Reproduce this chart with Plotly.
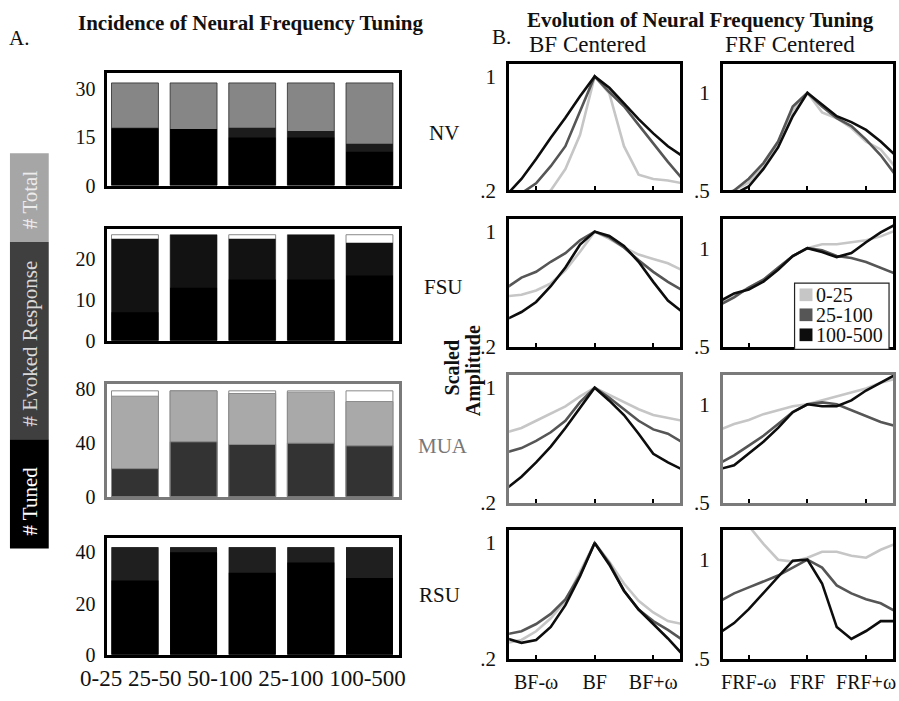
import plotly.graph_objects as go

W, H = 899, 701
FONT = "Liberation Serif"

# ---------------- data ----------------
categories = ["0-25", "25-50", "50-100", "25-100", "100-500"]
cell_types = ["NV", "FSU", "MUA", "RSU"]

nv_total = [32, 32, 32, 32, 32]
nv_evoked = [18, 17.6, 18, 17, 13]
nv_tuned = [17.8, 17.6, 15, 15, 10.5]

fsu_total = [26, 26, 26, 26, 26]
fsu_evoked = [25, 26, 25, 26, 24]
fsu_tuned = [7, 13, 15, 15, 16]

mua_total = [79, 79, 79, 79, 79]
mua_evoked = [75, 79, 77, 78, 71]
mua_tuned = [21, 41, 39, 40, 38]

rsu_total = [42, 42, 42, 42, 42]
rsu_evoked = [42, 42, 42, 42, 42]
rsu_tuned = [29, 40, 32, 36, 30]

bar_ticks = [[0, 15, 30], [0, 10, 20], [0, 40, 80], [0, 20, 40]]

# tuning-curve offsets (in units of omega)
offsets = [-1.5, -1.25, -1.0, -0.75, -0.5, -0.25, 0.0, 0.25, 0.5, 0.75, 1.0, 1.25, 1.5]
series_names = ["0-25", "25-100", "100-500"]

bf_nv_0_25 = [0.05, 0.08, 0.12, 0.20, 0.35, 0.59, 1.0, 0.88, 0.51, 0.31, 0.28, 0.27, 0.25]
bf_nv_25_100 = [0.10, 0.18, 0.25, 0.37, 0.51, 0.75, 1.0, 0.89, 0.79, 0.66, 0.53, 0.40, 0.28]
bf_nv_100_500 = [0.17, 0.28, 0.42, 0.57, 0.71, 0.86, 1.0, 0.92, 0.81, 0.70, 0.60, 0.51, 0.44]

frf_nv_0_25 = [0.48, 0.50, 0.54, 0.63, 0.74, 0.91, 1.0, 0.90, 0.87, 0.82, 0.75, 0.71, 0.62]
frf_nv_25_100 = [0.45, 0.50, 0.56, 0.64, 0.75, 0.93, 1.0, 0.93, 0.87, 0.83, 0.76, 0.68, 0.58]
frf_nv_100_500 = [0.44, 0.48, 0.52, 0.61, 0.72, 0.88, 1.0, 0.94, 0.88, 0.85, 0.81, 0.75, 0.68]

bf_fsu_0_25 = [0.55, 0.56, 0.59, 0.64, 0.73, 0.86, 1.0, 0.95, 0.89, 0.84, 0.81, 0.78, 0.73]
bf_fsu_25_100 = [0.61, 0.68, 0.72, 0.79, 0.85, 0.94, 1.0, 0.96, 0.89, 0.80, 0.72, 0.65, 0.59]
bf_fsu_100_500 = [0.39, 0.44, 0.51, 0.62, 0.75, 0.91, 1.0, 0.97, 0.90, 0.79, 0.65, 0.52, 0.44]

frf_fsu_0_25 = [0.72, 0.76, 0.80, 0.84, 0.90, 0.96, 1.0, 1.02, 1.02, 1.03, 1.04, 1.06, 1.09]
frf_fsu_25_100 = [0.71, 0.75, 0.80, 0.84, 0.90, 0.96, 1.0, 0.99, 0.96, 0.95, 0.93, 0.90, 0.87]
frf_fsu_100_500 = [0.73, 0.77, 0.79, 0.83, 0.89, 0.96, 1.0, 0.98, 0.955, 0.975, 1.03, 1.08, 1.12]

bf_mua_0_25 = [0.69, 0.72, 0.77, 0.82, 0.87, 0.94, 1.0, 0.95, 0.90, 0.85, 0.81, 0.79, 0.77]
bf_mua_25_100 = [0.55, 0.58, 0.63, 0.69, 0.77, 0.90, 1.0, 0.93, 0.85, 0.77, 0.71, 0.68, 0.62]
bf_mua_100_500 = [0.30, 0.38, 0.48, 0.59, 0.72, 0.86, 1.0, 0.91, 0.81, 0.68, 0.54, 0.48, 0.43]

frf_mua_0_25 = [0.87, 0.90, 0.92, 0.95, 0.97, 0.99, 1.0, 1.02, 1.04, 1.06, 1.08, 1.11, 1.13]
frf_mua_25_100 = [0.70, 0.74, 0.79, 0.84, 0.90, 0.96, 1.0, 1.01, 1.0, 0.97, 0.94, 0.91, 0.89]
frf_mua_100_500 = [0.67, 0.69, 0.75, 0.81, 0.88, 0.96, 1.0, 0.99, 0.99, 1.02, 1.07, 1.11, 1.15]

bf_rsu_0_25 = [0.31, 0.33, 0.39, 0.48, 0.60, 0.80, 1.0, 0.87, 0.72, 0.60, 0.52, 0.46, 0.44]
bf_rsu_25_100 = [0.37, 0.39, 0.44, 0.51, 0.61, 0.78, 1.0, 0.86, 0.67, 0.54, 0.46, 0.40, 0.33]
bf_rsu_100_500 = [0.34, 0.31, 0.33, 0.42, 0.57, 0.77, 1.0, 0.85, 0.67, 0.54, 0.44, 0.34, 0.23]

frf_rsu_0_25 = [1.30, 1.24, 1.17, 1.08, 1.00, 0.99, 1.01, 1.04, 1.04, 1.02, 1.01, 1.05, 1.08]
frf_rsu_25_100 = [0.79, 0.83, 0.86, 0.89, 0.92, 0.96, 1.0, 0.96, 0.87, 0.83, 0.80, 0.78, 0.74]
frf_rsu_100_500 = [0.63, 0.68, 0.75, 0.83, 0.91, 0.995, 1.0, 0.88, 0.66, 0.60, 0.64, 0.69, 0.69]

bf_ticktext = ["BF-\u03c9", "BF", "BF+\u03c9"]
frf_ticktext = ["FRF-\u03c9", "FRF", "FRF+\u03c9"]

# ---------------- helpers ----------------
def dxp(a, b):
    return [a / W, b / W]

def dyp(top, bottom):
    return [1 - bottom / H, 1 - top / H]

fig = go.Figure()
layout = {}

bar_data = [
    (nv_total, nv_evoked, nv_tuned),
    (fsu_total, fsu_evoked, fsu_tuned),
    (mua_total, mua_evoked, mua_tuned),
    (rsu_total, rsu_evoked, rsu_tuned),
]
bar_colors = [
    ["#868686", "#1c1c1c", "#000000"],
    ["#ffffff", "#121212", "#000000"],
    ["#ffffff", "#a9a9a9", "#333333"],
    ["#1f1f1f", "#1f1f1f", "#000000"],
]
# (colour, width) of outline for total / evoked / tuned
bar_edge = [
    [("#2a2a2a", 0.8), ("#1c1c1c", 0), ("#000", 0)],
    [("#8a8a8a", 1), ("#121212", 0), ("#000", 0)],
    [("#8a8a8a", 1), ("#8a8a8a", 1), ("#8a8a8a", 1)],
    [("#1f1f1f", 0), ("#1f1f1f", 0), ("#000", 0)],
]
frame_colors = ["#000000", "#000000", "#7a7a7a", "#000000"]
bar_rows = [(70, 185), (230, 344), (388, 504), (546, 666)]
bar_ranges = [35, 27.3, 84.4, 45.7]

xpos = [i + 1 for i in range(len(categories))]

for i in range(4):
    ax = i + 1
    xa = "x" if ax == 1 else f"x{ax}"
    ya = "y" if ax == 1 else f"y{ax}"
    for k, vals in enumerate(bar_data[i]):
        fig.add_trace(go.Bar(
            x=xpos, y=vals, width=0.8, xaxis=xa, yaxis=ya,
            marker=dict(color=bar_colors[i][k],
                        line=dict(color=bar_edge[i][k][0], width=bar_edge[i][k][1])),
            showlegend=False, hoverinfo="skip"))
    top, bot = bar_rows[i]
    layout[f"xaxis{'' if ax == 1 else ax}"] = dict(
        domain=dxp(106, 399), range=[0.53, 5.5], anchor=ya,
        showline=True, mirror=True, linewidth=3, linecolor=frame_colors[i],
        showgrid=False, zeroline=False, ticks="", showticklabels=False,
        fixedrange=True)
    layout[f"yaxis{'' if ax == 1 else ax}"] = dict(
        domain=dyp(top, bot), range=[0, bar_ranges[i]], anchor=xa,
        showline=True, mirror=True, linewidth=3, linecolor=frame_colors[i],
        showgrid=False, zeroline=False, ticks="",
        tickvals=bar_ticks[i], ticktext=[str(v) for v in bar_ticks[i]],
        tickfont=dict(family=FONT, size=20, color="#111"),
        ticklabelstandoff=5, fixedrange=True)

# ---------------- tuning curves ----------------
line_colors = ["#c6c6c6", "#565656", "#0d0d0d"]
bf_series = [
    (bf_nv_0_25, bf_nv_25_100, bf_nv_100_500),
    (bf_fsu_0_25, bf_fsu_25_100, bf_fsu_100_500),
    (bf_mua_0_25, bf_mua_25_100, bf_mua_100_500),
    (bf_rsu_0_25, bf_rsu_25_100, bf_rsu_100_500),
]
frf_series = [
    (frf_nv_0_25, frf_nv_25_100, frf_nv_100_500),
    (frf_fsu_0_25, frf_fsu_25_100, frf_fsu_100_500),
    (frf_mua_0_25, frf_mua_25_100, frf_mua_100_500),
    (frf_rsu_0_25, frf_rsu_25_100, frf_rsu_100_500),
]
line_rows = [(60, 190), (219, 350), (379, 510), (538, 670)]
line_frames = ["#000000", "#000000", "#7a7a7a", "#000000"]

for col in range(2):
    for r in range(4):
        ax = 5 + col * 4 + r
        xa, ya = f"x{ax}", f"y{ax}"
        data = (bf_series if col == 0 else frf_series)[r]
        for k, vals in enumerate(data):
            fig.add_trace(go.Scatter(
                x=offsets, y=vals, mode="lines", xaxis=xa, yaxis=ya,
                line=dict(color=line_colors[k], width=2.6),
                showlegend=False, hoverinfo="skip"))
        top, bot = line_rows[r]
        if col == 0:
            xdom, xr, ttext = dxp(510, 682), [-1.46, 1.46], bf_ticktext
            yr, yt, ytt = [0.2, 1.09], [0.2, 1], [".2", "1"]
        else:
            xdom, xr, ttext = dxp(725, 896), [-1.44, 1.46], frf_ticktext
            yr, yt, ytt = [0.5, 1.15], [0.5, 1], [".5", "1"]
        layout[f"xaxis{ax}"] = dict(
            domain=xdom, range=xr, anchor=ya,
            showline=True, mirror=True, linewidth=3, linecolor=line_frames[r],
            showgrid=False, zeroline=False, ticks="inside", ticklen=4,
            tickwidth=2, tickcolor="#000",
            tickvals=[-1, 0, 1], ticktext=ttext, showticklabels=(r == 3),
            tickfont=dict(family=FONT, size=20, color="#111"),
            ticklabeloverflow="allow", ticklabelstandoff=3, fixedrange=True)
        layout[f"yaxis{ax}"] = dict(
            domain=dyp(top, bot), range=yr, anchor=xa,
            showline=True, mirror=True, linewidth=3, linecolor=line_frames[r],
            showgrid=False, zeroline=False, ticks="",
            tickvals=yt, ticktext=ytt,
            tickfont=dict(family=FONT, size=21, color="#111"),
            ticklabelstandoff=6, fixedrange=True)

# ---------------- annotations ----------------
ann = []

def text(x, y, s, size, color="#111", bold=False, angle=0, xanchor="center"):
    ann.append(dict(
        x=x / W, y=1 - y / H, xref="paper", yref="paper", text=(f"<b>{s}</b>" if bold else s),
        showarrow=False, font=dict(family=FONT, size=size, color=color),
        textangle=angle, xanchor=xanchor, yanchor="middle"))

text(250, 18, "Incidence of Neural Frequency Tuning", 21, bold=True)
text(702, 15, "Evolution of Neural Frequency Tuning", 21, bold=True)
text(17, 34, "A.", 21)
text(502, 33, "B.", 21)
text(589, 40, "BF Centered", 23)
text(792, 40, "FRF Centered", 23)

label_pos = [(444, 131), (444, 289), (443, 452), (440, 605)]
label_colors = ["#111", "#111", "#777", "#111"]
for name, (lx, ly), c in zip(cell_types, label_pos, label_colors):
    text(lx, ly, name, 21, color=c)

text(242, 690, " ".join(categories), 23)

# Scaled Amplitude
text(453, 371, "Scaled", 20, bold=True, angle=-90)
text(475, 375, "Amplitude", 20, bold=True, angle=-90)

# colour key on the left
text(28, 200, "# Total", 21, color="#ececec", angle=-90)
text(28, 347, "# Evoked Response", 21, color="#d8d8d8", angle=-90)
text(28, 508, "# Tuned", 21, color="#ffffff", angle=-90)

shapes = [
    dict(type="rect", xref="paper", yref="paper", x0=8 / W, x1=47 / W,
         y0=1 - 243 / H, y1=1 - 152 / H, fillcolor="#a6a6a6", line=dict(width=0), layer="below"),
    dict(type="rect", xref="paper", yref="paper", x0=8 / W, x1=47 / W,
         y0=1 - 445 / H, y1=1 - 243 / H, fillcolor="#3f3f3f", line=dict(width=0), layer="below"),
    dict(type="rect", xref="paper", yref="paper", x0=8 / W, x1=47 / W,
         y0=1 - 557 / H, y1=1 - 445 / H, fillcolor="#000000", line=dict(width=0), layer="below"),
]

# legend box in the FSU / FRF-centered panel
shapes.append(dict(type="rect", xref="paper", yref="paper",
                   x0=797 / W, x1=892 / W, y0=1 - 353 / H, y1=1 - 285 / H,
                   fillcolor="white", line=dict(color="#222", width=1.2), layer="above"))
for k, name in enumerate(series_names):
    cy = 297 + k * 20.5
    shapes.append(dict(type="rect", xref="paper", yref="paper",
                       x0=802 / W, x1=815 / W, y0=1 - (cy + 6.5) / H, y1=1 - (cy - 6.5) / H,
                       fillcolor=line_colors[k], line=dict(width=0), layer="above"))
    text(817, cy, name, 20, xanchor="left")

fig.update_layout(
    width=W, height=H, autosize=False,
    margin=dict(l=0, r=0, t=0, b=0, pad=0),
    paper_bgcolor="white", plot_bgcolor="white",
    barmode="overlay", bargap=0.2,
    annotations=ann, shapes=shapes,
    showlegend=False,
    **layout,
)

fig.write_html("out.html")
